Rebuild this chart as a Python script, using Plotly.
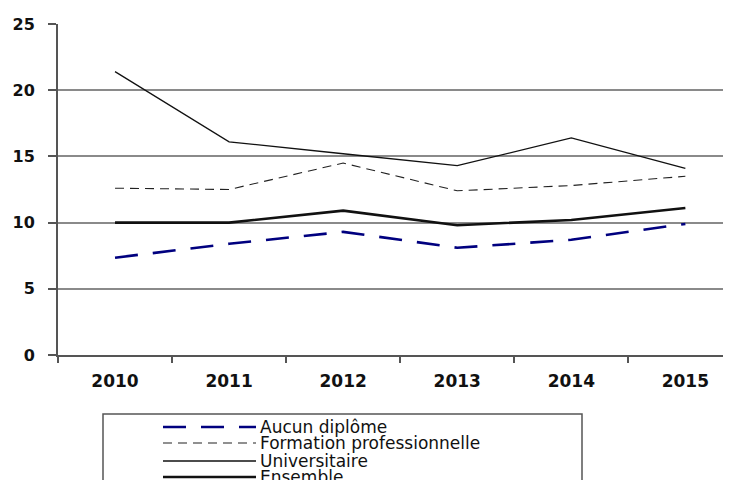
import plotly.graph_objects as go

years = ["2010", "2011", "2012", "2013", "2014", "2015"]
aucun = [7.35, 8.4, 9.3, 8.1, 8.7, 9.9]
formation = [12.6, 12.5, 14.5, 12.4, 12.8, 13.5]
universitaire = [21.4, 16.1, 15.2, 14.3, 16.4, 14.1]
ensemble = [10.0, 10.0, 10.9, 9.8, 10.2, 11.1]

series_names = ["Aucun diplôme", "Formation professionnelle", "Universitaire", "Ensemble"]
y_ticks = [0, 5, 10, 15, 20, 25]

# the html body has an 8px margin, so the figure sits at (8, 8) on the page
OFF = 8
W, H = 731 - OFF, 480 - OFF
# plot area in page pixels
L, R, T, B = 58, 731, 24, 355


def to_paper(xp, yp):
    return (xp - L) / (R - L), (B - yp) / (B - T)


styles = [
    dict(color="#00007f", width=2.6, dash="23px,15px"),
    dict(color="#222222", width=1.1, dash="9px,6px"),
    dict(color="#111111", width=1.3, dash="solid"),
    dict(color="#111111", width=2.6, dash="solid"),
]

fig = go.Figure()
for name, vals, st in zip(series_names, [aucun, formation, universitaire, ensemble], styles):
    fig.add_trace(go.Scatter(
        x=years, y=vals, name=name, mode="lines",
        line=st, showlegend=False
    ))

# hand-made legend box (cut off at the bottom like the original)
shapes = []
annotations = []
x0, y0 = to_paper(103, 414)
x1, y1 = to_paper(582, 520)
shapes.append(dict(type="rect", xref="paper", yref="paper", x0=x0, x1=x1, y0=y0, y1=y1,
                   line=dict(color="#555555", width=1.5), fillcolor="rgba(0,0,0,0)"))
row_y = [427, 443, 461, 477]
for name, st, ry in zip(series_names, styles, row_y):
    a, b = to_paper(163, ry)
    c, _ = to_paper(256, ry)
    shapes.append(dict(type="line", xref="paper", yref="paper", x0=a, x1=c, y0=b, y1=b,
                       line=dict(color=st["color"], width=st["width"], dash=st["dash"])))
    tx, ty = to_paper(258, ry)
    annotations.append(dict(text=name, xref="paper", yref="paper", x=tx, y=ty,
                            xanchor="left", yanchor="middle", showarrow=False,
                            font=dict(family="DejaVu Sans", size=17, color="#111111")))

fig.update_layout(
    width=W, height=H,
    margin=dict(l=L - OFF, r=731 - R, t=T - OFF, b=480 - B, pad=0),
    plot_bgcolor="white", paper_bgcolor="white",
    shapes=shapes, annotations=annotations,
    xaxis=dict(
        type="category", range=[-0.5, 5.4], tickson="boundaries",
        showline=True, linecolor="#555555", linewidth=2,
        ticks="outside", ticklen=6, tickwidth=2, tickcolor="#555555",
        showgrid=False, zeroline=False,
        tickfont=dict(family="DejaVu Sans", size=17, color="#111111", weight="bold"),
        ticklabelstandoff=10,
    ),
    yaxis=dict(
        range=[0, 25], tickvals=y_ticks,
        showline=True, linecolor="#555555", linewidth=2,
        ticks="outside", ticklen=8, tickwidth=2, tickcolor="#555555",
        showgrid=True, gridcolor="#8a8a8a", gridwidth=1.5, zeroline=False,
        tickfont=dict(family="DejaVu Sans", size=16, color="#111111", weight="bold"),
        ticklabelstandoff=10,
    ),
)

fig.write_html("out.html")
